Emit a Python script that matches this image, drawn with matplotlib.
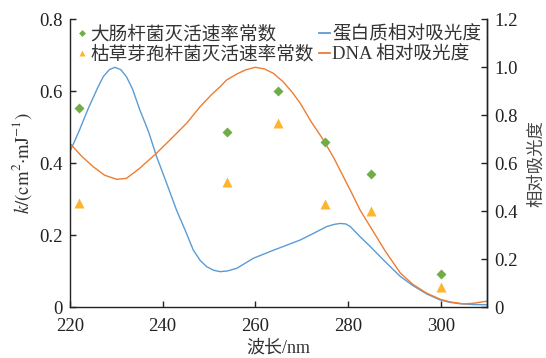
import matplotlib
matplotlib.use("Agg")
import matplotlib.pyplot as plt
from matplotlib.lines import Line2D

plt.rcParams['font.family'] = ['Liberation Serif', 'Noto Sans CJK SC']
plt.rcParams['mathtext.fontset'] = 'stix'

# inactivation rate constants (left axis)
wave_pts = [222, 254, 265, 275, 285, 300]
k_ecoli = [0.554, 0.486, 0.602, 0.458, 0.369, 0.093]
k_bsub = [0.289, 0.349, 0.511, 0.287, 0.268, 0.057]

# relative absorbance (right axis)
wave_prot = [220, 222, 224, 226, 227.2, 228.5, 229.7, 231, 232.2, 233.5, 235.1, 237,
             238.7, 241, 243, 245, 246.6, 248.1, 249.5, 251, 252.4, 254, 256, 259.6,
             264, 269.7, 273, 275.4, 277, 278.3, 279.5, 280.5, 282.6, 284.8, 288,
             291.3, 294, 297, 299.9, 302, 304.2, 307, 310]
abs_prot = [0.648, 0.735, 0.83, 0.915, 0.961, 0.99, 1.0, 0.99, 0.961, 0.91, 0.822, 0.73,
            0.628, 0.51, 0.405, 0.315, 0.239, 0.195, 0.169, 0.154, 0.148, 0.151, 0.162,
            0.204, 0.238, 0.28, 0.312, 0.336, 0.345, 0.349, 0.347, 0.336, 0.294, 0.253,
            0.19, 0.128, 0.09, 0.055, 0.03, 0.02, 0.014, 0.011, 0.01]

wave_dna = [220, 222.5, 225, 227.5, 230.1, 232.2, 235, 238.7, 242, 245.2, 248.1, 250.5,
            252.4, 253.8, 256, 258, 260, 262, 263.9, 266, 268, 269.7, 272, 274.7, 277,
            279, 280.7, 282.6, 284.8, 288, 291.3, 294, 297, 299.9, 302, 304.9, 307, 310]
abs_dna = [0.683, 0.63, 0.586, 0.55, 0.533, 0.537, 0.578, 0.642, 0.705, 0.767, 0.836, 0.885,
           0.919, 0.947, 0.972, 0.99, 1.0, 0.993, 0.975, 0.94, 0.895, 0.85, 0.775, 0.697,
           0.62, 0.544, 0.48, 0.405, 0.336, 0.235, 0.142, 0.095, 0.058, 0.033, 0.022,
           0.014, 0.016, 0.025]

fig = plt.figure(figsize=(5.46, 3.58), dpi=100)
ax = fig.add_axes([0.128, 0.142, 0.764, 0.804])
ax2 = ax.twinx()
ax.set_zorder(ax2.get_zorder() + 1)
ax.patch.set_visible(False)

ax2.plot(wave_prot, abs_prot, color='#5B9BD5', lw=1.0)
ax2.plot(wave_dna, abs_dna, color='#ED7D31', lw=1.0)
ax.plot(wave_pts, k_ecoli, 'D', color='#70AD47', ms=5, mec='none')
ax.plot(wave_pts, k_bsub, '^', color='#FFB42E', ms=6.5, mec='none')

ax.set_xlim(220, 310)
ax.set_ylim(0, 0.8)
ax2.set_ylim(0, 1.2)
ax.set_xticks([220, 240, 260, 280, 300])
ax.set_yticks([0, 0.2, 0.4, 0.6, 0.8])
ax.set_yticklabels(['0', '0.2', '0.4', '0.6', '0.8'])
ax2.set_yticks([0, 0.2, 0.4, 0.6, 0.8, 1.0, 1.2])
ax2.set_yticklabels(['0', '0.2', '0.4', '0.6', '0.8', '1.0', '1.2'])

for a in (ax, ax2):
    a.spines['top'].set_visible(False)
    for s in a.spines.values():
        s.set_linewidth(1.0)
        s.set_color('#222222')
    a.tick_params(direction='in', length=4, width=1.0, labelsize=13.5, colors='#222222', pad=5)
ax.tick_params(axis='x', pad=8)
ax2.spines['left'].set_visible(False)
ax2.spines['bottom'].set_visible(False)

ax.set_xlabel('波长/nm', fontsize=13, color='#333333', labelpad=3)
ax.set_ylabel(r'$k/(\mathrm{cm^{2}{\cdot}mJ^{-1}})$', fontsize=13.5, color='#333333', labelpad=4)
ax2.set_ylabel('相对吸光度', fontsize=12.5, color='#444444', labelpad=8)

handles = [
    Line2D([], [], ls='none', marker='D', color='#70AD47', ms=3.5, mec='none'),
    Line2D([], [], ls='none', marker='^', color='#FFB42E', ms=4.5, mec='none'),
    Line2D([], [], color='#5B9BD5', lw=1.3),
    Line2D([], [], color='#ED7D31', lw=1.3),
]
labels = ['大肠杆菌灭活速率常数', '枯草芽孢杆菌灭活速率常数', '蛋白质相对吸光度', 'DNA 相对吸光度']
ax.legend(handles, labels, loc='upper left', ncol=2, frameon=False, fontsize=13.4,
          handlelength=0.6, handletextpad=0.15, columnspacing=0.25, labelspacing=0.12,
          borderpad=0.35, borderaxespad=0.0, bbox_to_anchor=(0.0, 1.0), labelcolor='#333333')

fig.savefig('out.png', dpi=100)
